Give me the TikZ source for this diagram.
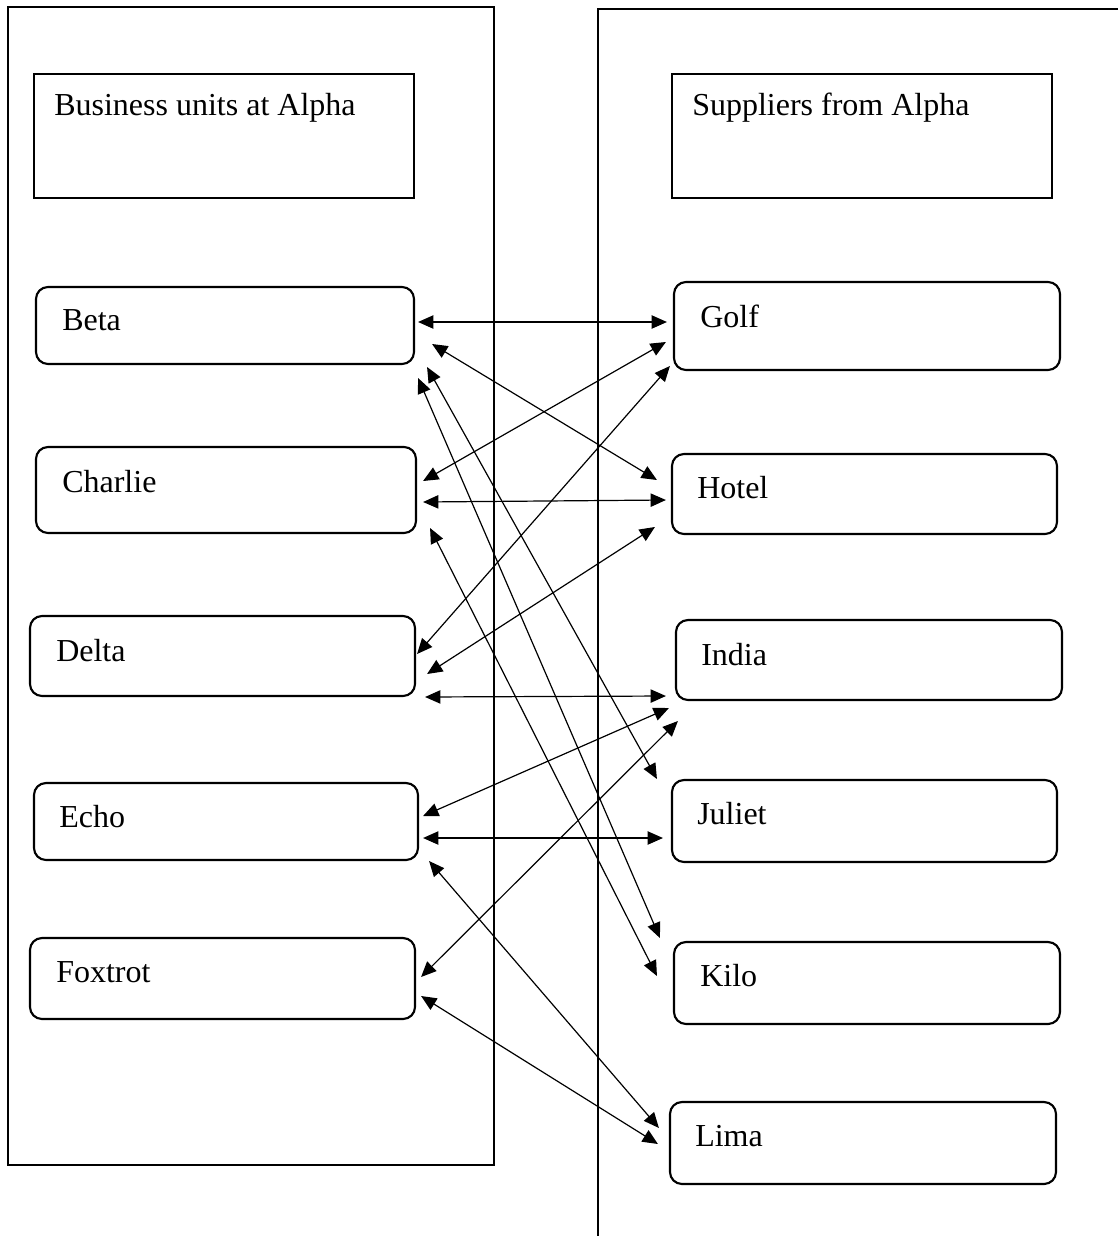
\documentclass[tikz,border=0pt]{standalone}
\usepackage{fontspec}
\setmainfont{Liberation Serif}
\usetikzlibrary{arrows.meta,fit}

\tikzset{
  frame/.style={line width=1.9pt},
  headbox/.style={draw, line width=0.9pt, inner sep=0pt},
  unitbox/.style={draw, line width=1.6pt, rounded corners=9pt, inner sep=0pt},
  label/.style={anchor=base west, inner sep=0pt, font=\fontsize{24}{28}\selectfont},
  link/.style={line width=0.9pt, {Triangle[length=11.5pt,width=10pt]}-{Triangle[length=11.5pt,width=10pt]}}
}

\begin{document}
\begin{tikzpicture}[x=0.75pt,y=-0.75pt]
\useasboundingbox (0,0) rectangle (1118,1236);

% outer frames
\draw[frame] (8,7) rectangle (494,1165);
\draw[frame] (598,1236) -- (598,9) -- (1118,9);

% column headings
\node[headbox, fit={(34,74)(414,198)}] (hl) {};
\node[label] (hlt) at (54,115) {Business units at Alpha};
\node[headbox, fit={(672,74)(1052,198)}] (hr) {};
\node[label] (hrt) at (692,115) {Suppliers from Alpha};

% business units
\node[unitbox, fit={(36,287)(414,364)}] (beta) {};
\node[label] (betat) at (62,330) {Beta};
\node[unitbox, fit={(36,447)(416,533)}] (charlie) {};
\node[label] (charliet) at (62,492) {Charlie};
\node[unitbox, fit={(30,616)(415,696)}] (delta) {};
\node[label] (deltat) at (56,661) {Delta};
\node[unitbox, fit={(34,783)(418,860)}] (echo) {};
\node[label] (echot) at (59,827) {Echo};
\node[unitbox, fit={(30,938)(415,1019)}] (foxtrot) {};
\node[label] (foxtrott) at (56,982) {Foxtrot};

% suppliers
\node[unitbox, fit={(674,282)(1060,370)}] (golf) {};
\node[label] (golft) at (700,327) {Golf};
\node[unitbox, fit={(672,454)(1057,534)}] (hotel) {};
\node[label] (hotelt) at (697,498) {Hotel};
\node[unitbox, fit={(676,620)(1062,700)}] (india) {};
\node[label] (indiat) at (701,665) {India};
\node[unitbox, fit={(672,780)(1057,862)}] (juliet) {};
\node[label] (juliett) at (697,824) {Juliet};
\node[unitbox, fit={(674,942)(1060,1024)}] (kilo) {};
\node[label] (kilot) at (700,986) {Kilo};
\node[unitbox, fit={(670,1102)(1056,1184)}] (lima) {};
\node[label] (limat) at (695,1146) {Lima};

% relations
\draw[link] ([shift={(3,-3.5)}]beta.east) -- ([shift={(-6,-4)}]golf.west);
\draw[link] ([shift={(17,18.5)}]beta.east) -- ([shift={(-14,-14)}]hotel.west);
\draw[link] ([shift={(-7,16)}]golf.west) -- ([shift={(6,-9)}]charlie.east);
\draw[link] ([shift={(6,12)}]charlie.east) -- ([shift={(-5,6)}]hotel.west);
\draw[link] ([shift={(-3,40)}]golf.west) -- ([shift={(1,-2)}]delta.east);
\draw[link] ([shift={(-16,33)}]hotel.west) -- ([shift={(11,18)}]delta.east);
\draw[link] ([shift={(9,41)}]delta.east) -- ([shift={(-9,36)}]india.west);
\draw[link] ([shift={(-6,48)}]india.west) -- ([shift={(4,-5.5)}]echo.east);
\draw[link] ([shift={(3,61)}]india.west) -- ([shift={(5,-1.5)}]foxtrot.east);
\draw[link] ([shift={(4,16.5)}]echo.east) -- ([shift={(-8,17)}]juliet.west);
\draw[link] ([shift={(10,39.5)}]echo.east) -- ([shift={(-10,-15)}]lima.west);
\draw[link] ([shift={(5,17.5)}]foxtrot.east) -- ([shift={(-11,1)}]lima.west);
\draw[link] ([shift={(12,41.5)}]beta.east) -- ([shift={(-14,-42)}]juliet.west);
\draw[link] ([shift={(3,52.5)}]beta.east) -- ([shift={(-13,-45)}]kilo.west);
\draw[link] ([shift={(13,38)}]charlie.east) -- ([shift={(-16,-7)}]kilo.west);
\end{tikzpicture}
\end{document}
